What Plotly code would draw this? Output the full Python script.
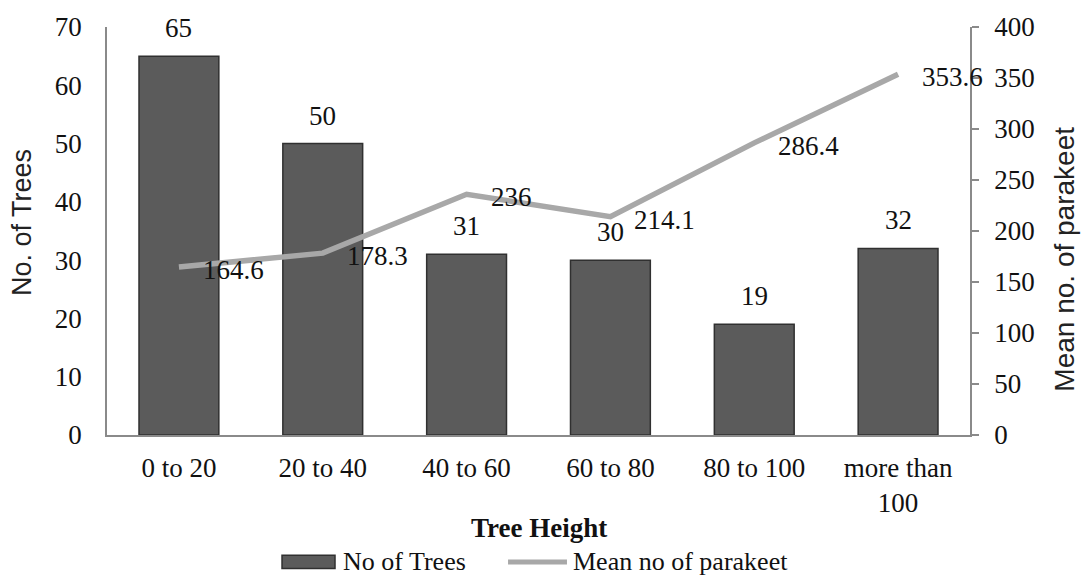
import plotly.graph_objects as go

# Tree height classes and survey figures
height_classes = ["0 to 20", "20 to 40", "40 to 60", "60 to 80", "80 to 100", "more than<br>100"]
tree_counts = [65, 50, 31, 30, 19, 32]
mean_parakeets = [164.6, 178.3, 236, 214.1, 286.4, 353.6]

serif = "Liberation Serif, Times New Roman, serif"
sans = "Liberation Sans, Arial, sans-serif"
ink = "#111111"

fig = go.Figure()

fig.add_trace(go.Bar(
    x=height_classes,
    y=tree_counts,
    name="No of Trees",
    marker=dict(color="#5b5b5b", line=dict(color="#303030", width=1.5)),
    width=0.555,
    yaxis="y",
    showlegend=False,
))

fig.add_trace(go.Scatter(
    x=height_classes,
    y=mean_parakeets,
    name="Mean no of parakeet",
    mode="lines",
    line=dict(color="#a8a8a8", width=5.5),
    yaxis="y2",
    showlegend=False,
))

# value labels above each bar
for cat, val in zip(height_classes, tree_counts):
    fig.add_annotation(
        x=cat, y=val, xref="x", yref="y",
        text=str(val), showarrow=False,
        yshift=28, yanchor="middle",
        font=dict(family=serif, size=27, color=ink),
    )

# value labels to the right of each line vertex
for cat, val in zip(height_classes, mean_parakeets):
    fig.add_annotation(
        x=cat, y=val, xref="x", yref="y2",
        text=f"{val:g}", showarrow=False,
        xanchor="left", yanchor="middle",
        xshift=22, yshift=-3,
        font=dict(family=serif, size=27, color=ink),
    )

# axis titles
fig.add_annotation(
    x=0.5, y=-0.228, xref="paper", yref="paper",
    text="<b>Tree Height</b>", showarrow=False,
    xanchor="center", yanchor="middle",
    font=dict(family=serif, size=27, color=ink),
)
fig.add_annotation(
    x=-0.0985, y=0.522, xref="paper", yref="paper",
    text="No. of Trees", showarrow=False, textangle=-90,
    xanchor="center", yanchor="middle",
    font=dict(family=sans, size=27, color="#222"),
)
fig.add_annotation(
    x=1.109, y=0.43, xref="paper", yref="paper",
    text="Mean no. of parakeet", showarrow=False, textangle=-90,
    xanchor="center", yanchor="middle",
    font=dict(family=sans, size=28, color="#222"),
)

# legend
legend_y = -0.311
fig.add_shape(type="rect", xref="paper", yref="paper",
              x0=0.2028, x1=0.2642, y0=legend_y - 0.0165, y1=legend_y + 0.0165,
              fillcolor="#5b5b5b", line=dict(color="#303030", width=1.5))
fig.add_annotation(
    x=0.2711, y=legend_y, xref="paper", yref="paper",
    text="No of Trees", showarrow=False,
    xanchor="left", yanchor="middle",
    font=dict(family=serif, size=26, color=ink),
)
fig.add_shape(type="line", xref="paper", yref="paper",
              x0=0.4647, x1=0.533, y0=legend_y, y1=legend_y,
              line=dict(color="#a8a8a8", width=5))
fig.add_annotation(
    x=0.5377, y=legend_y, xref="paper", yref="paper",
    text="Mean no of parakeet", showarrow=False,
    xanchor="left", yanchor="middle",
    font=dict(family=serif, size=26, color=ink),
)

fig.update_layout(
    width=1082,
    height=581,
    margin=dict(l=107, r=112, t=27, b=146),
    paper_bgcolor="white",
    plot_bgcolor="white",
    showlegend=False,
    xaxis=dict(
        type="category",
        range=[-0.5, len(height_classes) - 0.5],
        showline=True,
        linecolor="#8a8a8a",
        linewidth=1.5,
        showgrid=False,
        ticks="",
        tickfont=dict(family=serif, size=27, color=ink),
        ticklabelstandoff=8,
    ),
    yaxis=dict(
        range=[0, 70],
        dtick=10,
        showline=True,
        linecolor="#8a8a8a",
        linewidth=1.5,
        showgrid=False,
        zeroline=False,
        ticks="",
        tickfont=dict(family=serif, size=27, color=ink),
        ticklabelstandoff=18,
    ),
    yaxis2=dict(
        range=[0, 400],
        dtick=50,
        overlaying="y",
        side="right",
        showline=True,
        linecolor="#8a8a8a",
        linewidth=1.5,
        showgrid=False,
        zeroline=False,
        ticks="outside",
        ticklen=7,
        tickwidth=1.5,
        tickcolor="#8a8a8a",
        tickfont=dict(family=serif, size=27, color=ink),
        ticklabelstandoff=10,
    ),
)

fig.write_html("out.html")
